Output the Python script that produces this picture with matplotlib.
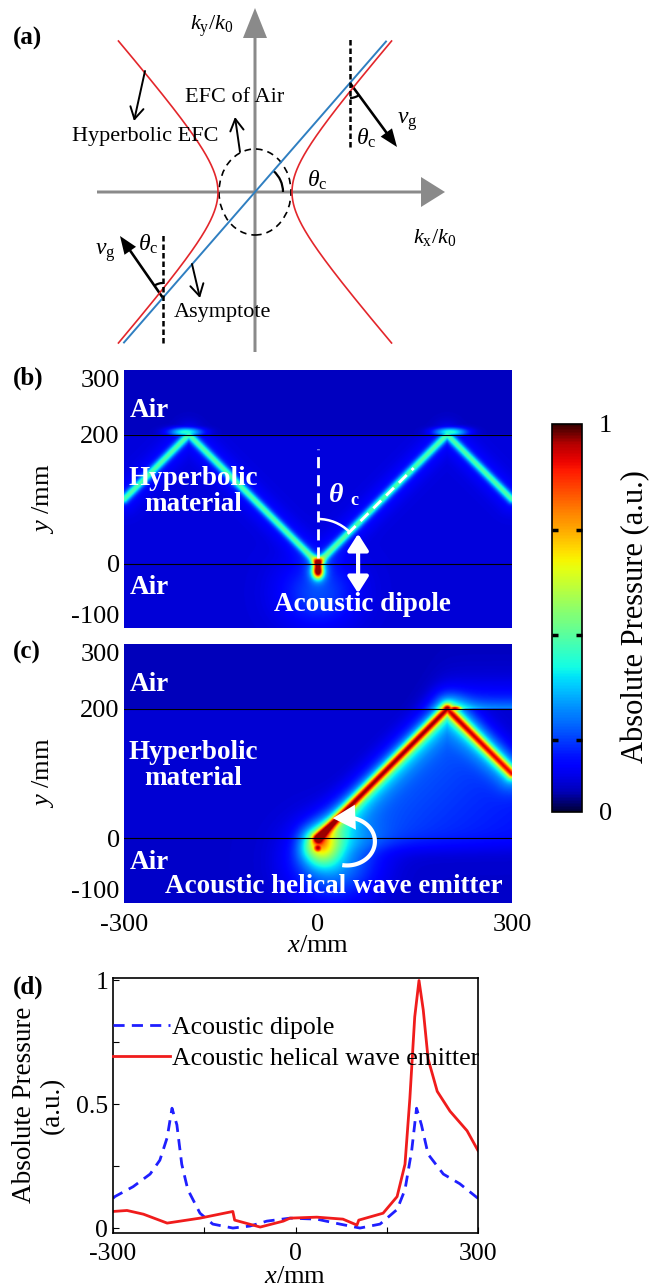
import matplotlib

matplotlib.use("Agg")
import matplotlib.pyplot as plt
import numpy as np
from matplotlib.colors import LinearSegmentedColormap
from matplotlib.patches import Arc, Ellipse

plt.rcParams["font.family"] = "Liberation Serif"
plt.rcParams["mathtext.fontset"] = "custom"
plt.rcParams["mathtext.rm"] = "Liberation Serif"
plt.rcParams["mathtext.it"] = "Liberation Serif:italic"
plt.rcParams["mathtext.bf"] = "Liberation Serif:bold"
plt.rcParams["axes.unicode_minus"] = False

# ---- panel (d): pressure profiles ----
dipole_x = [-300, -297, -267, -239, -223, -211, -203, -195, -187, -177, -157, -136,
            -103, -75, -47, -9, 35, 73, 106, 139, 167, 180, 191, 199, 207, 218,
            243, 270, 300]
dipole_y = [0.12, 0.127, 0.167, 0.218, 0.274, 0.365, 0.484, 0.417, 0.258, 0.155,
            0.06, 0.016, 0.0, 0.008, 0.028, 0.04, 0.036, 0.016, 0.0, 0.016, 0.075,
            0.155, 0.313, 0.484, 0.417, 0.298, 0.218, 0.179, 0.12]
helical_x = [-300, -277, -250, -211, -157, -103, -100, -58, -20, -9, 35, 78, 101,
             104, 144, 167, 180, 188, 196, 203, 210, 218, 233, 254, 282, 300]
helical_y = [0.067, 0.071, 0.056, 0.02, 0.04, 0.067, 0.032, 0.004, 0.028, 0.04,
             0.044, 0.036, 0.012, 0.032, 0.06, 0.127, 0.258, 0.524, 0.853, 1.0,
             0.881, 0.683, 0.552, 0.472, 0.393, 0.313]
x_ticks = [-300, 0, 300]
y_ticks_map = [-100, 0, 200, 300]

# ---- panels (b), (c): beam paths (mm) and levels of the simulated fields ----
interfaces = [0, 200]
dipole_beams = [((0, 0), (-200, 200)), ((0, 0), (200, 200)),
                ((-200, 200), (-300, 100)), ((200, 200), (300, 100))]
helical_beams = [((0, 0), (200, 200)), ((200, 200), (300, 100))]
helical_levels = [0.46, 0.40]
source_xy = (0, -12)

W, H = 650, 1287
fig = plt.figure(figsize=(W / 100, H / 100), dpi=100)


def box(x0, y0, x1, y1):
    return [x0 / W, 1 - y1 / H, (x1 - x0) / W, (y1 - y0) / H]


# jet with darker ends
stops = np.linspace(0.05, 0.95, 40)
cols = [(0.0, (0.0, 0.0, 0.22))] + [(s, plt.cm.jet(s)) for s in stops] + [(1.0, (0.22, 0.0, 0.0))]
cmap = LinearSegmentedColormap.from_list("jetdark", cols)

# ================= panel (a) =================
ax_a = fig.add_axes(box(80, 0, 470, 360))
ax_a.set_xlim(-175, 215)
ax_a.set_ylim(-168, 192)
ax_a.axis("off")
gray = "#8a8a8a"
ax_a.arrow(-158, 0, 348, 0, width=3, head_width=30, head_length=24,
           length_includes_head=True, color=gray, lw=0)
ax_a.arrow(0, -160, 0, 344, width=3, head_width=24, head_length=30,
           length_includes_head=True, color=gray, lw=0)

a_h, b_h = 37.0, 42.5
t = np.linspace(-1.98, 1.98, 300)
for s in (1, -1):
    ax_a.plot(s * a_h * np.cosh(t), b_h * np.sinh(t), color="#e3262b", lw=1.2)
xs = np.array([-131, 131])
ax_a.plot(xs, b_h / a_h * xs, color="#2f7fc1", lw=1.4)
ax_a.add_patch(Ellipse((0, 0), 72, 86, fill=False, ls=(0, (4, 3)), lw=1.2, color="k"))
ang = np.degrees(np.arctan(b_h / a_h))
ax_a.add_patch(Arc((0, 0), 56, 56, theta1=0, theta2=ang, lw=1.6, color="k"))

# group-velocity arrows and normals
for (px, py), (dx, dy), (y0, y1), (t1, t2) in [
    ((95, 109), (47, -64), (45, 154), (-90, -54)),
    ((-92, -106), (-43, 62), (-151, -41), (90, 125)),
]:
    ax_a.plot([px, px], [y0, y1], color="k", lw=1.8, ls=(0, (2.2, 1.2)))
    ax_a.arrow(px, py, dx, dy, width=2.6, head_width=14, head_length=18,
               length_includes_head=True, color="k", lw=0)
    ax_a.add_patch(Arc((px, py), 30, 30, theta1=t1, theta2=t2, lw=1.6, color="k"))

fs_a = 16
theta_c = r"$\theta_\mathrm{c}$"
ax_a.text(62, 12, theta_c, fontsize=fs_a + 1, ha="center", va="center")
ax_a.text(111, 54, theta_c, fontsize=fs_a + 1, ha="center", va="center")
ax_a.text(-107, -52, theta_c, fontsize=fs_a + 1, ha="center", va="center")
ax_a.text(152, 70, r"$v_\mathrm{g}$", fontsize=fs_a + 1, ha="center", va="center")
ax_a.text(-150, -61, r"$v_\mathrm{g}$", fontsize=fs_a + 1, ha="center", va="center")
ax_a.text(-43, 166, r"$k_\mathrm{y}/k_0$", fontsize=fs_a, ha="center", va="center")
ax_a.text(180, -45, r"$k_\mathrm{x}/k_0$", fontsize=fs_a, ha="center", va="center")
ax_a.text(-110, 55, "Hyperbolic EFC", fontsize=fs_a, ha="center", va="center")
ax_a.text(-20, 95, "EFC of Air", fontsize=fs_a, ha="center", va="center")
ax_a.text(-33, -121, "Asymptote", fontsize=fs_a, ha="center", va="center")
ptr = dict(arrowstyle="->,head_length=0.7,head_width=0.4", lw=1.4, color="k",
           mutation_scale=12, shrinkA=0, shrinkB=0)
ax_a.annotate("", xy=(-121, 71), xytext=(-110, 121), arrowprops=ptr)
ax_a.annotate("", xy=(-20, 75), xytext=(-15, 40), arrowprops=ptr)
ax_a.annotate("", xy=(-55, -106), xytext=(-63, -72), arrowprops=ptr)

# ================= fields (b), (c) =================
gx = np.linspace(-300, 300, 601)
gy = np.linspace(-100, 300, 401)
X, Y = np.meshgrid(gx, gy)


def seg_dist(p0, p1):
    p0 = np.asarray(p0, float)
    d = np.asarray(p1, float) - p0
    tt = np.clip(((X - p0[0]) * d[0] + (Y - p0[1]) * d[1]) / (d @ d), 0, 1)
    return np.hypot(X - p0[0] - tt * d[0], Y - p0[1] - tt * d[1])


def gauss(cx, cy, sx, sy):
    return np.exp(-((X - cx) ** 2 / (2 * sx ** 2) + (Y - cy) ** 2 / (2 * sy ** 2)))


def sig(z):
    return 1 / (1 + np.exp(-z))


top, bot = interfaces[1], interfaces[0]
# (b) dipole
bg_b = np.where(Y > top, 0.06, np.where(Y > bot, 0.085, 0.08))
beam_b = np.zeros_like(X)
for p0, p1 in dipole_beams:
    d = seg_dist(p0, p1)
    beam_b = np.maximum(beam_b, 0.30 * np.exp(-d ** 2 / (2 * 4.5 ** 2))
                        + 0.06 * np.exp(-d ** 2 / (2 * 14 ** 2)))
fb = bg_b + beam_b + 0.12 * gauss(source_xy[0], -45, 40, 35)
for sx in (-205, 205):
    fb = np.maximum(fb, 0.06 + 0.34 * gauss(sx, top + 4, 18, 5))
fb = fb + 0.25 * gauss(source_xy[0], source_xy[1], 9, 11)
fb = fb + 0.7 * gauss(source_xy[0], source_xy[1], 5, 7) + 0.45 * gauss(0, 3, 5, 5)
fb = np.clip(fb, 0, 0.96)

# (c) helical emitter
bg_c = np.where(Y > top, 0.055, np.where(Y > bot, 0.075, 0.07))
wedge = 0.16 * sig((X - Y) / 8) * sig((Y + 15) / 8) * sig((420 - X - Y) / 15) * np.exp(-(X - Y) / 350)
beam_c = np.zeros_like(X)
for (p0, p1), lv in zip(helical_beams, helical_levels):
    d = seg_dist(p0, p1)
    beam_c = np.maximum(beam_c, lv * np.exp(-d ** 2 / (2 * 4.5 ** 2))
                        + 0.2 * np.exp(-d ** 2 / (2 * 8 ** 2))
                        + 0.16 * np.exp(-d ** 2 / (2 * 18 ** 2)))
fc = bg_c + wedge + beam_c
fc = fc + 0.22 * (Y > top) * np.exp(-np.clip(Y - top, 0, None) / 25) * sig((X - 185) / 12)
fc = fc + 0.2 * gauss(25, -35, 45, 40)
fc = np.maximum(fc, 0.95 * gauss(212, top + 1, 10, 3.5))
fc = fc + 0.3 * gauss(6, -16, 20, 20)
fc = np.maximum(fc, 0.96 * gauss(source_xy[0], source_xy[1] - 3, 8, 8))
fc = np.clip(fc, 0, 0.96)

fs_w = 19.5
lab_kw = dict(color="white", fontweight="bold", fontsize=fs_w, va="center")


def map_axes(ax, field):
    ax.imshow(field, extent=[-300, 300, -100, 300], origin="lower", aspect="auto",
              cmap=cmap, vmin=0, vmax=1, interpolation="bilinear")
    for yy in interfaces:
        ax.axhline(yy, color="k", lw=0.8)
    ax.set_xlim(-300, 300)
    ax.set_ylim(-100, 300)
    for sp in ax.spines.values():
        sp.set_visible(False)
    ax.set_yticks(y_ticks_map)
    ax.tick_params(length=0, labelsize=19, pad=3)
    for lab, v in zip(ax.get_yticklabels(), y_ticks_map):
        if v == 300:
            lab.set_va("top")
        elif v == -100:
            lab.set_va("bottom")
    ax.text(-291, 237, "Air", ha="left", **lab_kw)
    ax.text(-193, 112, "Hyperbolic\nmaterial", ha="center", linespacing=1.05, **lab_kw)
    ax.text(-291, -37, "Air", ha="left", **lab_kw)


ax_b = fig.add_axes(box(124, 370, 512, 628))
map_axes(ax_b, fb)
ax_b.set_xticks([])
ax_b.text(69, -64, "Acoustic dipole", ha="center", **lab_kw)
ax_b.plot([0, 0], [8, 178], color="white", lw=2, ls=(0, (4, 2.5)))
ax_b.plot([46, 148], [46, 148], color="white", lw=2, ls=(0, (4, 2.5)))
ax_b.add_patch(Arc((0, 0), 138, 138, theta1=46, theta2=90, color="white", lw=1.8))
ax_b.text(28, 105, "θ", color="white", fontsize=20, fontweight="bold", fontstyle="italic",
          ha="center", va="center")
ax_b.text(56, 97, "c", color="white", fontsize=13, fontweight="bold", ha="center", va="center")
ax_b.annotate("", xy=(62, 46), xytext=(62, -46),
              arrowprops=dict(arrowstyle="<|-|>,head_length=0.55,head_width=0.35",
                              color="white", lw=3, mutation_scale=18, shrinkA=0, shrinkB=0))

ax_c = fig.add_axes(box(124, 644, 512, 903))
map_axes(ax_c, fc)
ax_c.set_xticks(x_ticks)
ax_c.tick_params(axis="x", pad=8)
ax_c.text(25, -75, "Acoustic helical wave emitter", ha="center", **lab_kw)
cx, cy, rx, ry = 45, -5, 43, 37
tt = np.radians(np.linspace(-100, 88, 100))
ax_c.plot(cx + rx * np.cos(tt), cy + ry * np.sin(tt), color="white", lw=3,
          solid_capstyle="butt")
ax_c.annotate("", xy=(cx - 22, cy + ry - 1), xytext=(cx + 2, cy + ry),
              arrowprops=dict(arrowstyle="-|>,head_length=0.9,head_width=0.5",
                              color="white", lw=0, mutation_scale=18, shrinkA=0, shrinkB=0))
fig.text(318 / W, 1 - 946 / H, r"$x$/mm", fontsize=19, ha="center", va="center")

for yc in (499, 773):
    fig.text(43 / W, 1 - yc / H, r"$y$ /mm", fontsize=19, rotation=90,
             ha="center", va="center")

# ================= colorbar =================
cax = fig.add_axes(box(552, 424, 582, 812))
sm = plt.cm.ScalarMappable(cmap=cmap, norm=plt.Normalize(0, 1))
cb = fig.colorbar(sm, cax=cax)
cb.set_ticks([0, 1])
cb.ax.yaxis.set_ticks([0.186, 0.456, 0.727], minor=True)
cb.ax.tick_params(which="major", length=0, labelsize=19, pad=12)
cb.ax.tick_params(which="minor", direction="in", length=4, width=2.5, left=True, right=True)
cb.outline.set_linewidth(1.2)
fig.text(636 / W, 1 - 617 / H, "Absolute Pressure (a.u.)", fontsize=22, rotation=90,
         ha="center", va="center")

# ================= panel (d) =================
ax_d = fig.add_axes(box(113, 978, 478, 1233))
ax_d.plot(dipole_x, dipole_y, color="#1f1fff", lw=2, ls=(0, (4, 2.6)),
          label="Acoustic dipole")
ax_d.plot(helical_x, helical_y, color="#f01c1c", lw=2, label="Acoustic helical wave emitter")
ax_d.set_xlim(-300, 300)
ax_d.set_ylim(-0.02, 1.01)
ax_d.set_xticks([-300, -150, 0, 150, 300])
ax_d.set_xticklabels(["-300", "", "0", "", "300"])
ax_d.set_yticks([0, 0.25, 0.5, 0.75, 1])
ax_d.set_yticklabels(["0", "", "0.5", "", "1"])
ax_d.tick_params(direction="in", length=4, labelsize=18.5)
ax_d.tick_params(axis="x", pad=7)
for sp in ax_d.spines.values():
    sp.set_linewidth(1.2)
ax_d.legend(loc="upper left", bbox_to_anchor=(0, 0.85), frameon=False, fontsize=18.5,
            handlelength=2.2, handletextpad=0.1, labelspacing=0.32, borderpad=0,
            borderaxespad=0)
fig.text(295 / W, 1 - 1277 / H, r"$x$/mm", fontsize=19, ha="center", va="center")
fig.text(38 / W, 1 - 1105 / H, "Absolute Pressure\n(a.u.)", fontsize=19.5, rotation=90,
         ha="center", va="center", linespacing=1.15, multialignment="center")

for lbl, yc in [("(a)", 38), ("(b)", 378), ("(c)", 652), ("(d)", 987)]:
    fig.text(13 / W, 1 - yc / H, lbl, fontsize=18, fontweight="bold", ha="left", va="center")

fig.savefig("out.png", dpi=100)
